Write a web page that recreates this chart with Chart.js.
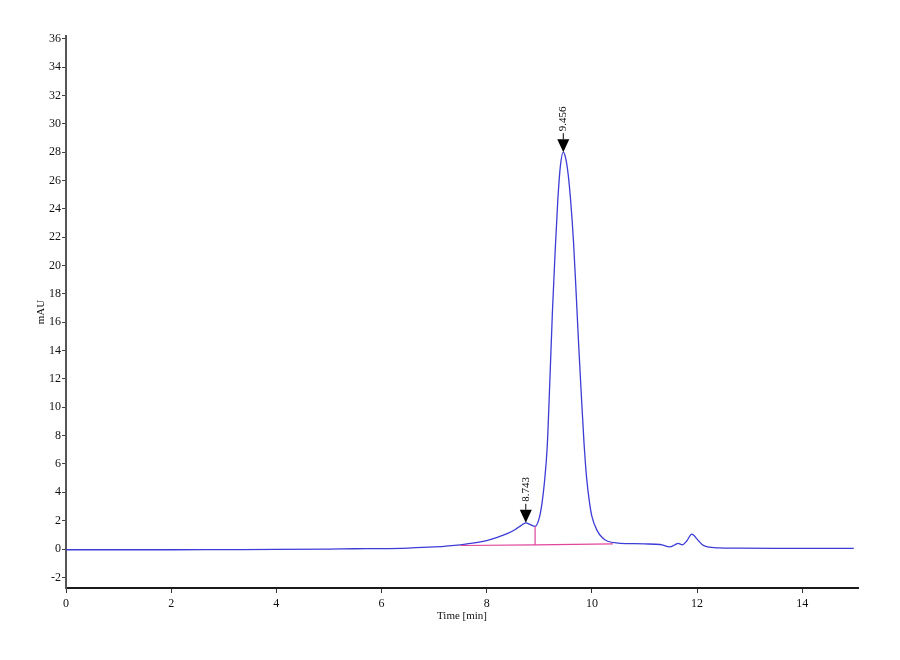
<!DOCTYPE html>
<html>
<head>
<meta charset="utf-8">
<script src="https://cdn.jsdelivr.net/npm/chart.js@4/dist/chart.umd.min.js"></script>
<style>
  html, body { margin: 0; padding: 0; background: #fff; }
  #wrap { width: 900px; height: 660px; }
</style>
</head>
<body>
<div id="wrap"><canvas id="chrom"></canvas></div>
<script>
// ─── Data ─────────────────────────────────────────────────────
const times = [0, 1, 2, 3, 4, 5, 5.5, 6, 6.5, 7, 7.5, 7.8, 8.0, 8.2, 8.4, 8.55, 8.65, 8.743, 8.83, 8.92,
    9.0, 9.05, 9.1, 9.15, 9.2, 9.25, 9.3, 9.35, 9.4, 9.456, 9.5, 9.55, 9.6, 9.65, 9.7, 9.75, 9.8, 9.85,
    9.9, 9.95, 10.0, 10.1, 10.2, 10.3, 10.5, 10.8, 11.0, 11.3, 11.48, 11.58, 11.64, 11.72, 11.8, 11.9,
    12.0, 12.1, 12.2, 12.4, 12.8, 13.5, 14.0, 14.98];
const mAU = [-0.05, -0.05, -0.05, -0.04, -0.03, 0.0, 0.02, 0.03, 0.07, 0.15, 0.3, 0.45, 0.6, 0.82, 1.1, 1.4, 1.65, 1.85, 1.72, 1.6,
    2.2, 3.2, 4.8, 7.2, 11.8, 16.8, 20.9, 24.5, 27.0, 28.0, 27.6, 26.4, 24.4, 21.7, 18.1, 14.3, 10.8, 7.5,
    5.0, 3.4, 2.3, 1.3, 0.8, 0.55, 0.42, 0.38, 0.36, 0.32, 0.15, 0.3, 0.4, 0.3, 0.55, 1.05,
    0.7, 0.3, 0.15, 0.08, 0.06, 0.05, 0.05, 0.05];

// integration baseline + drop line
const baseTimes = [7.5, 8.92, 10.4];
const baseVals = [0.25, 0.29, 0.36];
const dropTimes = [8.92, 8.92];
const dropVals = [0.29, 1.6];

// peak marks
const peakTimes = [8.743, 9.456];
const peakHeights = [1.85, 28.0];
const peakLabels = ['8.743', '9.456'];

const xTicks = [0, 2, 4, 6, 8, 10, 12, 14];
const yTicks = [-2, 0, 2, 4, 6, 8, 10, 12, 14, 16, 18, 20, 22, 24, 26, 28, 30, 32, 34, 36];

const SERIF = '"Liberation Serif", "DejaVu Serif", serif';
const toXY = (xs, ys) => xs.map((x, i) => ({ x, y: ys[i] }));

// ─── Peak arrows + retention time labels ──────────────────────
const peakMarks = {
    id: 'peakMarks',
    afterDatasetsDraw(chart) {
        const { ctx, scales: { x, y } } = chart;
        peakTimes.forEach((t, i) => {
            const px = x.getPixelForValue(t);
            const py = y.getPixelForValue(peakHeights[i]);
            ctx.save();
            ctx.fillStyle = '#000';
            ctx.strokeStyle = '#000';
            ctx.beginPath();
            ctx.moveTo(px, py);
            ctx.lineTo(px - 6, py - 13);
            ctx.lineTo(px + 6, py - 13);
            ctx.closePath();
            ctx.fill();
            ctx.lineWidth = 1;
            ctx.beginPath();
            ctx.moveTo(px, py - 13);
            ctx.lineTo(px, py - 19);
            ctx.stroke();
            ctx.translate(px, py - 21);
            ctx.rotate(-Math.PI / 2);
            ctx.font = '11px ' + SERIF;
            ctx.textAlign = 'left';
            ctx.textBaseline = 'middle';
            ctx.fillText(peakLabels[i], 0, 0);
            ctx.restore();
        });
    }
};

new Chart(document.getElementById('chrom'), {
    type: 'line',
    data: {
        datasets: [
            {
                label: 'baseline',
                data: toXY(baseTimes, baseVals),
                borderColor: '#e0469c',
                borderWidth: 1.2,
                pointRadius: 0,
                tension: 0
            },
            {
                label: 'drop',
                data: toXY(dropTimes, dropVals),
                borderColor: '#e0469c',
                borderWidth: 1.2,
                pointRadius: 0,
                tension: 0
            },
            {
                label: 'signal',
                data: toXY(times, mAU),
                borderColor: '#3c3cd6',
                borderWidth: 1.3,
                pointRadius: 0,
                cubicInterpolationMode: 'monotone'
            }
        ]
    },
    options: {
        responsive: true,
        maintainAspectRatio: false,
        animation: false,
        layout: { padding: { left: 0, right: 42, top: 36, bottom: 0 } },
        plugins: { legend: { display: false }, tooltip: { enabled: false } },
        scales: {
            x: {
                type: 'linear',
                min: 0,
                max: 15.06,
                afterBuildTicks: s => { s.ticks = xTicks.map(v => ({ value: v })); },
                afterFit: s => { s.height = 72; },
                border: { display: true, color: '#1a1a1a', width: 2 },
                grid: { display: true, drawOnChartArea: false, drawTicks: true, tickLength: 5, color: '#333' },
                ticks: { color: '#111', padding: 4, font: { family: SERIF, size: 12 }, maxRotation: 0 },
                title: { display: true, text: 'Time [min]', color: '#111', font: { family: SERIF, size: 11 },
                         padding: { top: 0, bottom: 37 } }
            },
            y: {
                min: -2.75,
                max: 36.2,
                afterBuildTicks: s => { s.ticks = yTicks.map(v => ({ value: v })); },
                afterFit: s => { s.width = 66; },
                border: { display: true, color: '#555', width: 2 },
                grid: { display: true, drawOnChartArea: false, drawTicks: true, tickLength: 4, color: '#444' },
                ticks: { color: '#111', padding: 1, font: { family: SERIF, size: 12 } },
                title: { display: true, text: 'mAU', color: '#111', font: { family: SERIF, size: 11 },
                         padding: { top: 35, bottom: 0 } }
            }
        }
    },
    plugins: [peakMarks]
});
</script>
</body>
</html>
